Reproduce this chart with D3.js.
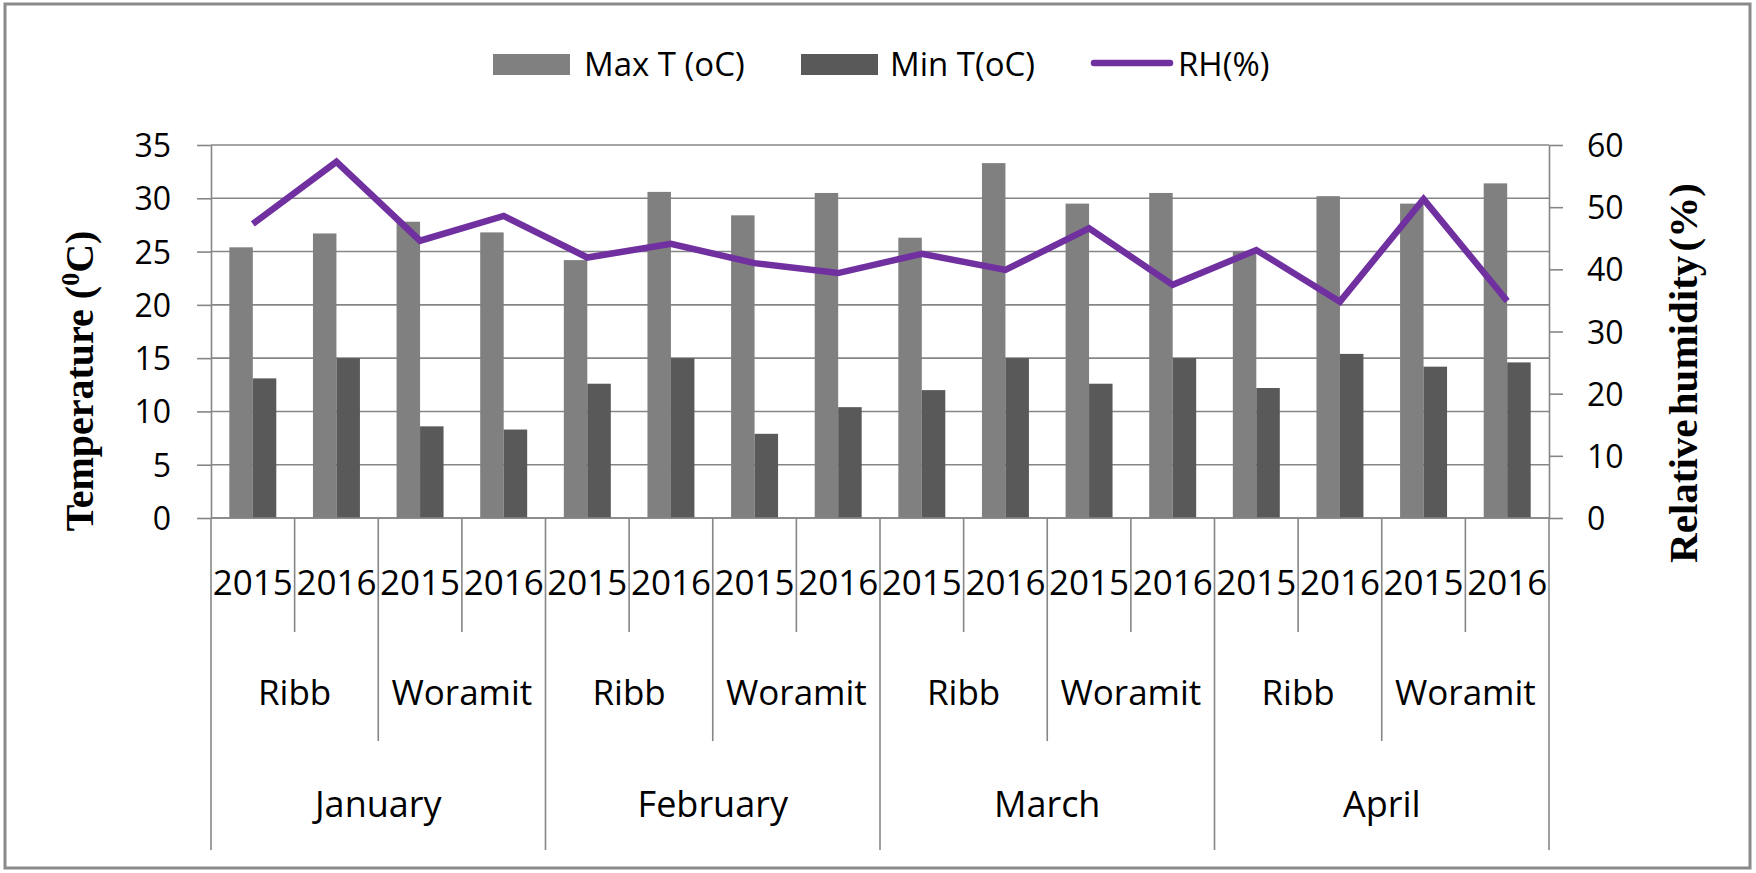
<!DOCTYPE html>
<html>
<head>
<meta charset="utf-8">
<script src="https://cdn.jsdelivr.net/npm/d3@7/dist/d3.min.js"></script>
<style>
  body { margin: 0; background: #fff; }
  text { font-family: "Open Sans", sans-serif; fill: #000; }
  .title { font-family: "Liberation Serif", "Times New Roman", serif; font-weight: bold; }
</style>
</head>
<body>
<div id="chart"></div>
<script>
// categories (three level axis)
const years = ["2015", "2016", "2015", "2016", "2015", "2016", "2015", "2016",
  "2015", "2016", "2015", "2016", "2015", "2016", "2015", "2016"];
const sites = ["Ribb", "Woramit", "Ribb", "Woramit", "Ribb", "Woramit", "Ribb", "Woramit"];
const months = ["January", "February", "March", "April"];

// series
const maxT = [25.4, 26.7, 27.8, 26.8, 24.2, 30.6, 28.4, 30.5, 26.3, 33.3, 29.5, 30.5, 25.0, 30.2, 29.5, 31.4];
const minT = [13.1, 15.0, 8.6, 8.3, 12.6, 15.0, 7.9, 10.4, 12.0, 15.0, 12.6, 15.0, 12.2, 15.4, 14.2, 14.6];
const rh = [47.3, 57.3, 44.6, 48.6, 41.9, 44.1, 41.0, 39.4, 42.5, 39.9, 46.6, 37.5, 43.1, 34.8, 51.3, 34.9];

// tick labels
const tempTicks = [0, 5, 10, 15, 20, 25, 30, 35];
const rhTicks = [0, 10, 20, 30, 40, 50, 60];

const width = 1756, height = 873;
const plot = { left: 211, right: 1549, top: 145, bottom: 518 };
const gridColor = "#868686";

let svg, x, xSeries, yTemp, yRH;

const initSvg = () => {
  svg = d3.select("#chart").append("svg")
    .attr("width", width)
    .attr("height", height);
  svg.append("rect")
    .attr("x", 5).attr("y", 4)
    .attr("width", 1745).attr("height", 864)
    .attr("fill", "#fff")
    .attr("stroke", "#8a8a8a")
    .attr("stroke-width", 3);
};

const drawScales = () => {
  x = d3.scaleBand().domain(d3.range(years.length)).range([plot.left, plot.right]);
  xSeries = d3.scaleBand().domain(["max", "min"]).range([0, x.bandwidth()]).paddingOuter(0.78);
  yTemp = d3.scaleLinear().domain([0, 35]).range([plot.bottom, plot.top]);
  yRH = d3.scaleLinear().domain([0, 60]).range([plot.bottom, plot.top]);

  // gridlines
  svg.append("g")
    .selectAll("line")
    .data(tempTicks)
    .join("line")
    .attr("x1", plot.left).attr("x2", plot.right)
    .attr("y1", (d) => yTemp(d)).attr("y2", (d) => yTemp(d))
    .attr("stroke", gridColor)
    .attr("stroke-width", 1.6);

  //left axis
  const left = svg.append("g")
    .attr("transform", `translate(${plot.left},0)`)
    .call(d3.axisLeft(yTemp).tickValues(tempTicks).tickSize(14).tickPadding(26).tickSizeOuter(0));
  styleAxis(left);

  //right axis
  const right = svg.append("g")
    .attr("transform", `translate(${plot.right},0)`)
    .call(d3.axisRight(yRH).tickValues(rhTicks).tickSize(14).tickPadding(24).tickSizeOuter(0));
  styleAxis(right);

  //axis titles
  const lt = svg.append("text")
    .attr("class", "title")
    .attr("transform", "translate(93,381) rotate(-90)")
    .attr("text-anchor", "middle")
    .style("font-size", "40px");
  lt.append("tspan").text("Temperature (");
  lt.append("tspan").attr("baseline-shift", "super").style("font-size", "26px").text("0");
  lt.append("tspan").text("C)");

  svg.append("text")
    .attr("class", "title")
    .attr("transform", "translate(1697,373) rotate(-90)")
    .attr("text-anchor", "middle")
    .style("font-size", "41px")
    .style("word-spacing", "-6px")
    .text("Relative humidity (%)");
};

const styleAxis = (g) => {
  g.select(".domain").attr("stroke", gridColor).attr("stroke-width", 1.6);
  g.selectAll(".tick line").attr("stroke", gridColor).attr("stroke-width", 1.6);
  g.selectAll(".tick text")
    .attr("dy", "0.36em")
    .style("font-family", "Open Sans")
    .style("font-size", "32px")
    .attr("fill", "#000");
};

const drawCategoryAxis = () => {
  const g = svg.append("g");
  const bw = x.bandwidth();
  // baseline
  g.append("line")
    .attr("x1", plot.left).attr("x2", plot.right)
    .attr("y1", plot.bottom).attr("y2", plot.bottom)
    .attr("stroke", gridColor).attr("stroke-width", 1.6);
  // separators, longer for higher levels
  const bounds = d3.range(years.length + 1);
  g.selectAll("line.sep")
    .data(bounds)
    .join("line")
    .attr("class", "sep")
    .attr("x1", (i) => plot.left + i * bw)
    .attr("x2", (i) => plot.left + i * bw)
    .attr("y1", plot.bottom)
    .attr("y2", (i) => (i % 4 === 0 ? 850 : i % 2 === 0 ? 741 : 632))
    .attr("stroke", gridColor)
    .attr("stroke-width", 1.6);

  g.selectAll("text.year")
    .data(years)
    .join("text")
    .attr("class", "year")
    .attr("x", (d, i) => x(i) + bw / 2)
    .attr("y", 595)
    .attr("text-anchor", "middle")
    .style("font-size", "35px")
    .text((d) => d);

  g.selectAll("text.site")
    .data(sites)
    .join("text")
    .attr("class", "site")
    .attr("x", (d, i) => plot.left + (i * 2 + 1) * bw)
    .attr("y", 705)
    .attr("text-anchor", "middle")
    .style("font-size", "35px")
    .text((d) => d);

  g.selectAll("text.month")
    .data(months)
    .join("text")
    .attr("class", "month")
    .attr("x", (d, i) => plot.left + (i * 4 + 2) * bw)
    .attr("y", 817)
    .attr("text-anchor", "middle")
    .style("font-size", "36px")
    .text((d) => d);
};

const drawBars = () => {
  const g = svg.append("g");
  g.selectAll("rect.max")
    .data(maxT)
    .join("rect")
    .attr("class", "max")
    .attr("x", (d, i) => x(i) + xSeries("max"))
    .attr("y", (d) => yTemp(d))
    .attr("width", xSeries.bandwidth())
    .attr("height", (d) => yTemp(0) - yTemp(d))
    .attr("fill", "#808080");
  g.selectAll("rect.min")
    .data(minT)
    .join("rect")
    .attr("class", "min")
    .attr("x", (d, i) => x(i) + xSeries("min"))
    .attr("y", (d) => yTemp(d))
    .attr("width", xSeries.bandwidth())
    .attr("height", (d) => yTemp(0) - yTemp(d))
    .attr("fill", "#595959");
};

const drawLine = () => {
  const line = d3.line()
    .x((d, i) => x(i) + x.bandwidth() / 2)
    .y((d) => yRH(d));
  svg.append("path")
    .datum(rh)
    .attr("d", line)
    .attr("fill", "none")
    .attr("stroke", "#7030a0")
    .attr("stroke-width", 6.5)
    .attr("stroke-linejoin", "miter");
};

const drawLegend = () => {
  const g = svg.append("g");
  g.append("rect").attr("x", 493).attr("y", 54).attr("width", 77).attr("height", 21).attr("fill", "#808080");
  g.append("text").attr("x", 584).attr("y", 76).style("font-size", "33px").text("Max T (oC)");
  g.append("rect").attr("x", 801).attr("y", 54).attr("width", 77).attr("height", 21).attr("fill", "#595959");
  g.append("text").attr("x", 890).attr("y", 76).style("font-size", "33px").text("Min T(oC)");
  g.append("line").attr("x1", 1094).attr("x2", 1170).attr("y1", 63).attr("y2", 63)
    .attr("stroke", "#7030a0").attr("stroke-width", 6.5).attr("stroke-linecap", "round");
  g.append("text").attr("x", 1178).attr("y", 76).style("font-size", "33px").text("RH(%)");
};

initSvg();
drawScales();
drawBars();
drawLine();
drawCategoryAxis();
drawLegend();
</script>
</body>
</html>
